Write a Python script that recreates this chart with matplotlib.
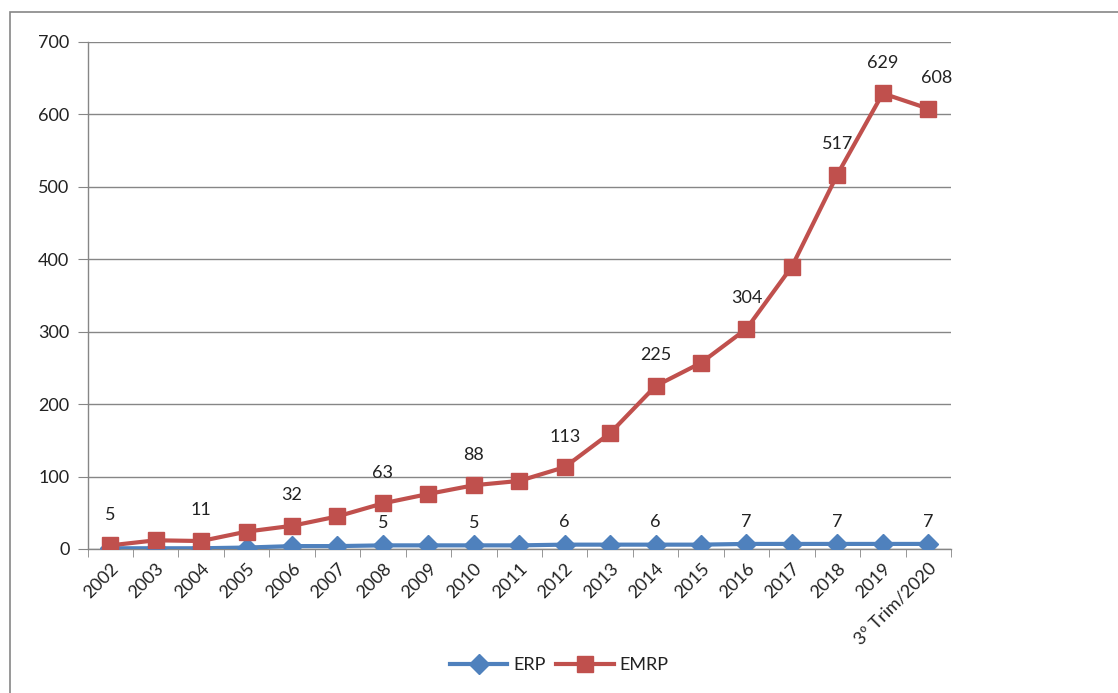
import matplotlib
matplotlib.use("Agg")
import matplotlib.pyplot as plt
from matplotlib.patches import Rectangle
import numpy as np

plt.rcParams['font.family'] = ['Lato', 'DejaVu Sans']

# dados
anos = ['2002', '2003', '2004', '2005', '2006', '2007', '2008', '2009', '2010',
        '2011', '2012', '2013', '2014', '2015', '2016', '2017', '2018', '2019',
        '3º Trim/2020']
erp = [1, 1, 1, 2, 4, 4, 5, 5, 5, 5, 6, 6, 6, 6, 7, 7, 7, 7, 7]
emrp = [5, 12, 11, 24, 32, 45, 63, 76, 88, 94, 113, 160, 225, 257, 304, 390, 517, 629, 608]

# quais pontos recebem rotulo
rot_emrp = [0, 2, 4, 6, 8, 10, 12, 14, 16, 17, 18]
rot_erp = [6, 8, 10, 12, 14, 16, 18]

azul = '#4F81BD'
vermelho = '#C0504D'
cinza = '#868686'
texto = '#222222'
fs = 13

fig = plt.figure(figsize=(11.18, 6.93), dpi=100)
ax = fig.add_axes([0.0783, 0.2078, 0.7723, 0.7316])

x = np.arange(len(anos))
ax.plot(x, erp, color=azul, lw=3, marker='D', markersize=10.5, label='ERP', zorder=3)
ax.plot(x, emrp, color=vermelho, lw=3, marker='s', markersize=12, label='EMRP', zorder=4)

for i in rot_emrp:
    dx = 6 if i == len(anos) - 1 else 0
    ax.annotate(str(emrp[i]), (x[i], emrp[i]), xytext=(dx, 22), textcoords='offset points',
                ha='center', va='center', fontsize=fs, color=texto)
for i in rot_erp:
    ax.annotate(str(erp[i]), (x[i], erp[i]), xytext=(0, 16), textcoords='offset points',
                ha='center', va='center', fontsize=fs, color=texto)

ax.set_xlim(-0.5, len(anos) - 0.5)
ax.set_ylim(0, 700)
ax.set_yticks(range(0, 701, 100))
ax.yaxis.grid(True, color=cinza, lw=1)
ax.set_axisbelow(True)

ax.set_xticks(x)
ax.set_xticklabels(anos, rotation=45, ha='right', rotation_mode='anchor', fontsize=fs, color=texto)
ax.tick_params(axis='x', length=0, pad=8)
ax.set_xticks(np.arange(-0.5, len(anos), 1), minor=True)
ax.tick_params(axis='x', which='minor', length=6, color=cinza, direction='out')
ax.tick_params(axis='y', length=7, color=cinza, labelsize=fs, labelcolor=texto, pad=6)

for s in ['top', 'right']:
    ax.spines[s].set_visible(False)
for s in ['left', 'bottom']:
    ax.spines[s].set_color(cinza)
    ax.spines[s].set_linewidth(1)

leg = fig.legend(loc='lower center', bbox_to_anchor=(0.5, 0.005), ncol=2, frameon=False,
                 fontsize=fs, handlelength=3.2, columnspacing=0.6, handletextpad=0.3)
for t in leg.get_texts():
    t.set_color(texto)

# moldura da area do grafico
fig.patches.append(Rectangle((0.0089, -0.1), 1.2, 1.0827, transform=fig.transFigure,
                             fill=False, edgecolor=cinza, lw=1.2))

fig.savefig('out.png', dpi=100)
